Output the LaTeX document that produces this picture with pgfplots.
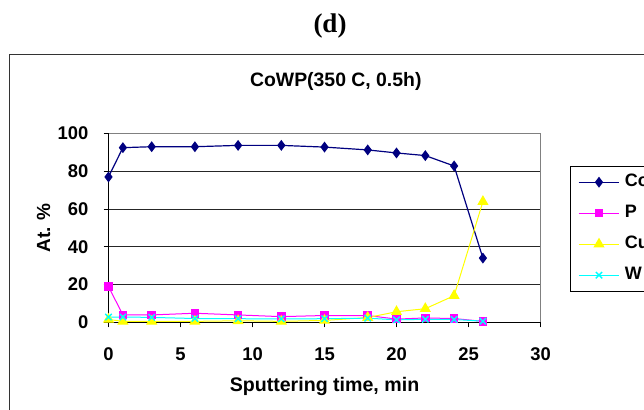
\documentclass[border=0pt]{standalone}
\usepackage{pgfplots}
\pgfplotsset{compat=1.18}
\usepackage{fontspec}
\setmainfont{Liberation Sans}
\newfontfamily\serifrm{Liberation Serif}

\definecolor{conavy}{HTML}{000080}
\definecolor{pmag}{HTML}{FF00FF}
\definecolor{cuyel}{HTML}{FFFF00}
\definecolor{wcyan}{HTML}{00FFFF}

% Depth profile: sputtering time (min) vs atomic percent
\pgfplotstableread{
t   Co    P     Cu    W
0   77.0  18.9  1.5   2.8
1   92.5  3.9   0.5   2.8
3   93.0  3.9   0.5   2.6
6   93.0  4.8   0.5   2.0
9   93.7  3.9   0.8   1.9
12  93.7  3.0   0.5   1.8
15  92.8  3.6   1.0   1.9
18  91.3  3.6   2.5   2.2
20  89.7  1.7   5.6   1.3
22  88.3  2.3   7.2   1.6
24  82.8  2.0   14.1  1.5
26  34.0  0.5   63.9  0.6
}\profile

\begin{document}
\begin{tikzpicture}[x=1bp,y=1bp]
\path[use as bounding box, clip] (0,0) rectangle (644,409);
\fill[white] (0,0) rectangle (644,409);
% chart area frame
\draw[line width=1.3bp, black!80] (9.3,-5) -- (9.3,354.3) -- (670,354.3);
% panel letter and chart title
\node[font=\serifrm\bfseries\fontsize{27bp}{27bp}\selectfont, anchor=base] at (330,376.6) {(d)};
\node[font=\bfseries\fontsize{19.4bp}{19.4bp}\selectfont, anchor=base] at (335.8,322.3) {CoWP(350 C, 0.5h)};
\node[font=\bfseries\fontsize{19.6bp}{19.6bp}\selectfont, anchor=base] at (324.5,17.3) {Sputtering time, min};
\node[font=\bfseries\fontsize{19bp}{19bp}\selectfont, anchor=base, rotate=90] at (50,181.1) {At. \%};

\begin{axis}[
  at={(108.5bp,86.7bp)}, anchor=south west,
  scale only axis, width=432bp, height=188.8bp,
  xmin=0, xmax=30, ymin=0, ymax=100,
  xtick={0,5,...,30}, ytick={0,20,...,100},
  axis lines=left,
  axis line style={-, black, line width=1bp},
  tick align=outside, major tick length=5bp,
  tick style={black, line width=0.8bp},
  ymajorgrids,
  grid style={black!85, line width=0.8bp},
  ticklabel style={font=\bfseries\fontsize{18.4bp}{18.4bp}\selectfont},
  yticklabel style={anchor=east, inner sep=0pt, xshift=-15bp},
  xticklabel style={anchor=base, inner sep=0pt, yshift=-33.2bp},
  /pgf/number format/assume math mode=true,
  clip=false,
  legend style={
    at={(rel axis cs:1.0683,0.8279)}, anchor=north west,
    draw=black, line width=0.8bp, fill=white,
    font=\bfseries\fontsize{18bp}{18bp}\selectfont,
    inner xsep=7.7bp, inner ysep=9.3bp,
    row sep=18bp,
    cells={anchor=west},
    nodes={inner sep=0pt, text height=11bp, text depth=2bp},
    /tikz/every odd column/.append style={column sep=5bp},
  },
  legend image code/.code={
    \draw[mark repeat=2, mark phase=2, #1] plot coordinates {(0bp,0bp) (20.3bp,0bp) (40.6bp,0bp)};
  },
  after end axis/.code={
    \draw[gray, line width=0.8bp] (rel axis cs:0,1) -- (rel axis cs:1,1) -- (rel axis cs:1,0);
  },
]
\addplot[conavy, line width=1.2bp, mark=diamond*, mark size=4.5bp, mark options={solid, fill=conavy}]
  table[x=t, y=Co] {\profile};
\addlegendentry{Co}
\addplot[pmag, line width=1bp, mark=square*, mark size=3.8bp, mark options={solid, fill=pmag}]
  table[x=t, y=P] {\profile};
\addlegendentry{P}
\addplot[cuyel, line width=1bp, mark=triangle*, mark size=5.5bp, mark options={solid, fill=cuyel}]
  table[x=t, y=Cu] {\profile};
\addlegendentry{Cu}
\addplot[wcyan, line width=1bp, mark=x, mark size=4.5bp, mark options={solid, line width=1.4bp}]
  table[x=t, y=W] {\profile};
\addlegendentry{W}
\end{axis}
\end{tikzpicture}
\end{document}
